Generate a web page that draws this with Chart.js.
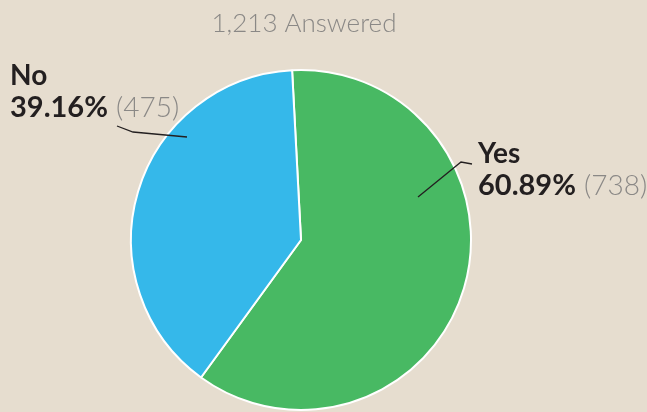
<!DOCTYPE html>
<html>
<head>
<meta charset="utf-8">
<script src="https://cdn.jsdelivr.net/npm/chart.js@4.4.1/dist/chart.umd.min.js"></script>
<style>
    html, body { margin: 0; padding: 0; background: #e6ddcf; }
    #wrap { width: 647px; height: 412px; }
</style>
</head>
<body>
<div id="wrap"><canvas id="pollChart" width="647" height="412"></canvas></div>
<script>
// Poll results
const answers = ['Yes', 'No'];
const counts = [738, 475];
const percents = ['60.89%', '39.16%'];
const totalText = '1,213 Answered';
const sliceColors = ['#48b963', '#35b8ea'];

// Callout text + leader line for each slice (same order as answers)
const callouts = [
    { x: 478, y: 163, line: [[418, 197], [461, 162], [472, 164]] },
    { x: 10, y: 85, line: [[187, 137], [133, 132], [117, 126]] }
];

const calloutPlugin = {
    id: 'callouts',
    afterDraw(chart) {
        const ctx = chart.ctx;
        ctx.save();

        // title
        ctx.font = '300 26px Lato';
        ctx.fillStyle = '#8a8886';
        ctx.textAlign = 'center';
        ctx.textBaseline = 'alphabetic';
        ctx.fillText(totalText, 304, 32);

        ctx.textAlign = 'left';
        callouts.forEach((c, i) => {
            // leader line
            ctx.strokeStyle = '#231f20';
            ctx.lineWidth = 1.3;
            ctx.beginPath();
            c.line.forEach((p, j) => j === 0 ? ctx.moveTo(p[0], p[1]) : ctx.lineTo(p[0], p[1]));
            ctx.stroke();

            // label name
            ctx.fillStyle = '#231f20';
            ctx.font = 'bold 28px Lato';
            ctx.fillText(answers[i], c.x, c.y);

            // percent + count
            ctx.font = 'bold 29px Lato';
            ctx.fillText(percents[i], c.x, c.y + 32);
            const w = ctx.measureText(percents[i]).width;
            ctx.font = '300 28px Lato';
            ctx.fillStyle = '#8a8886';
            ctx.fillText('(' + counts[i] + ')', c.x + w + 8, c.y + 32);
        });

        ctx.restore();
    }
};

new Chart(document.getElementById('pollChart'), {
    type: 'pie',
    data: {
        labels: answers,
        datasets: [{
            data: counts,
            backgroundColor: sliceColors,
            borderColor: '#ffffff',
            borderWidth: 2
        }]
    },
    options: {
        responsive: false,
        animation: false,
        rotation: -3,
        layout: { padding: { top: 69, bottom: 1, left: 0, right: 45 } },
        plugins: {
            legend: { display: false },
            tooltip: { enabled: false }
        }
    },
    plugins: [calloutPlugin]
});
</script>
</body>
</html>
